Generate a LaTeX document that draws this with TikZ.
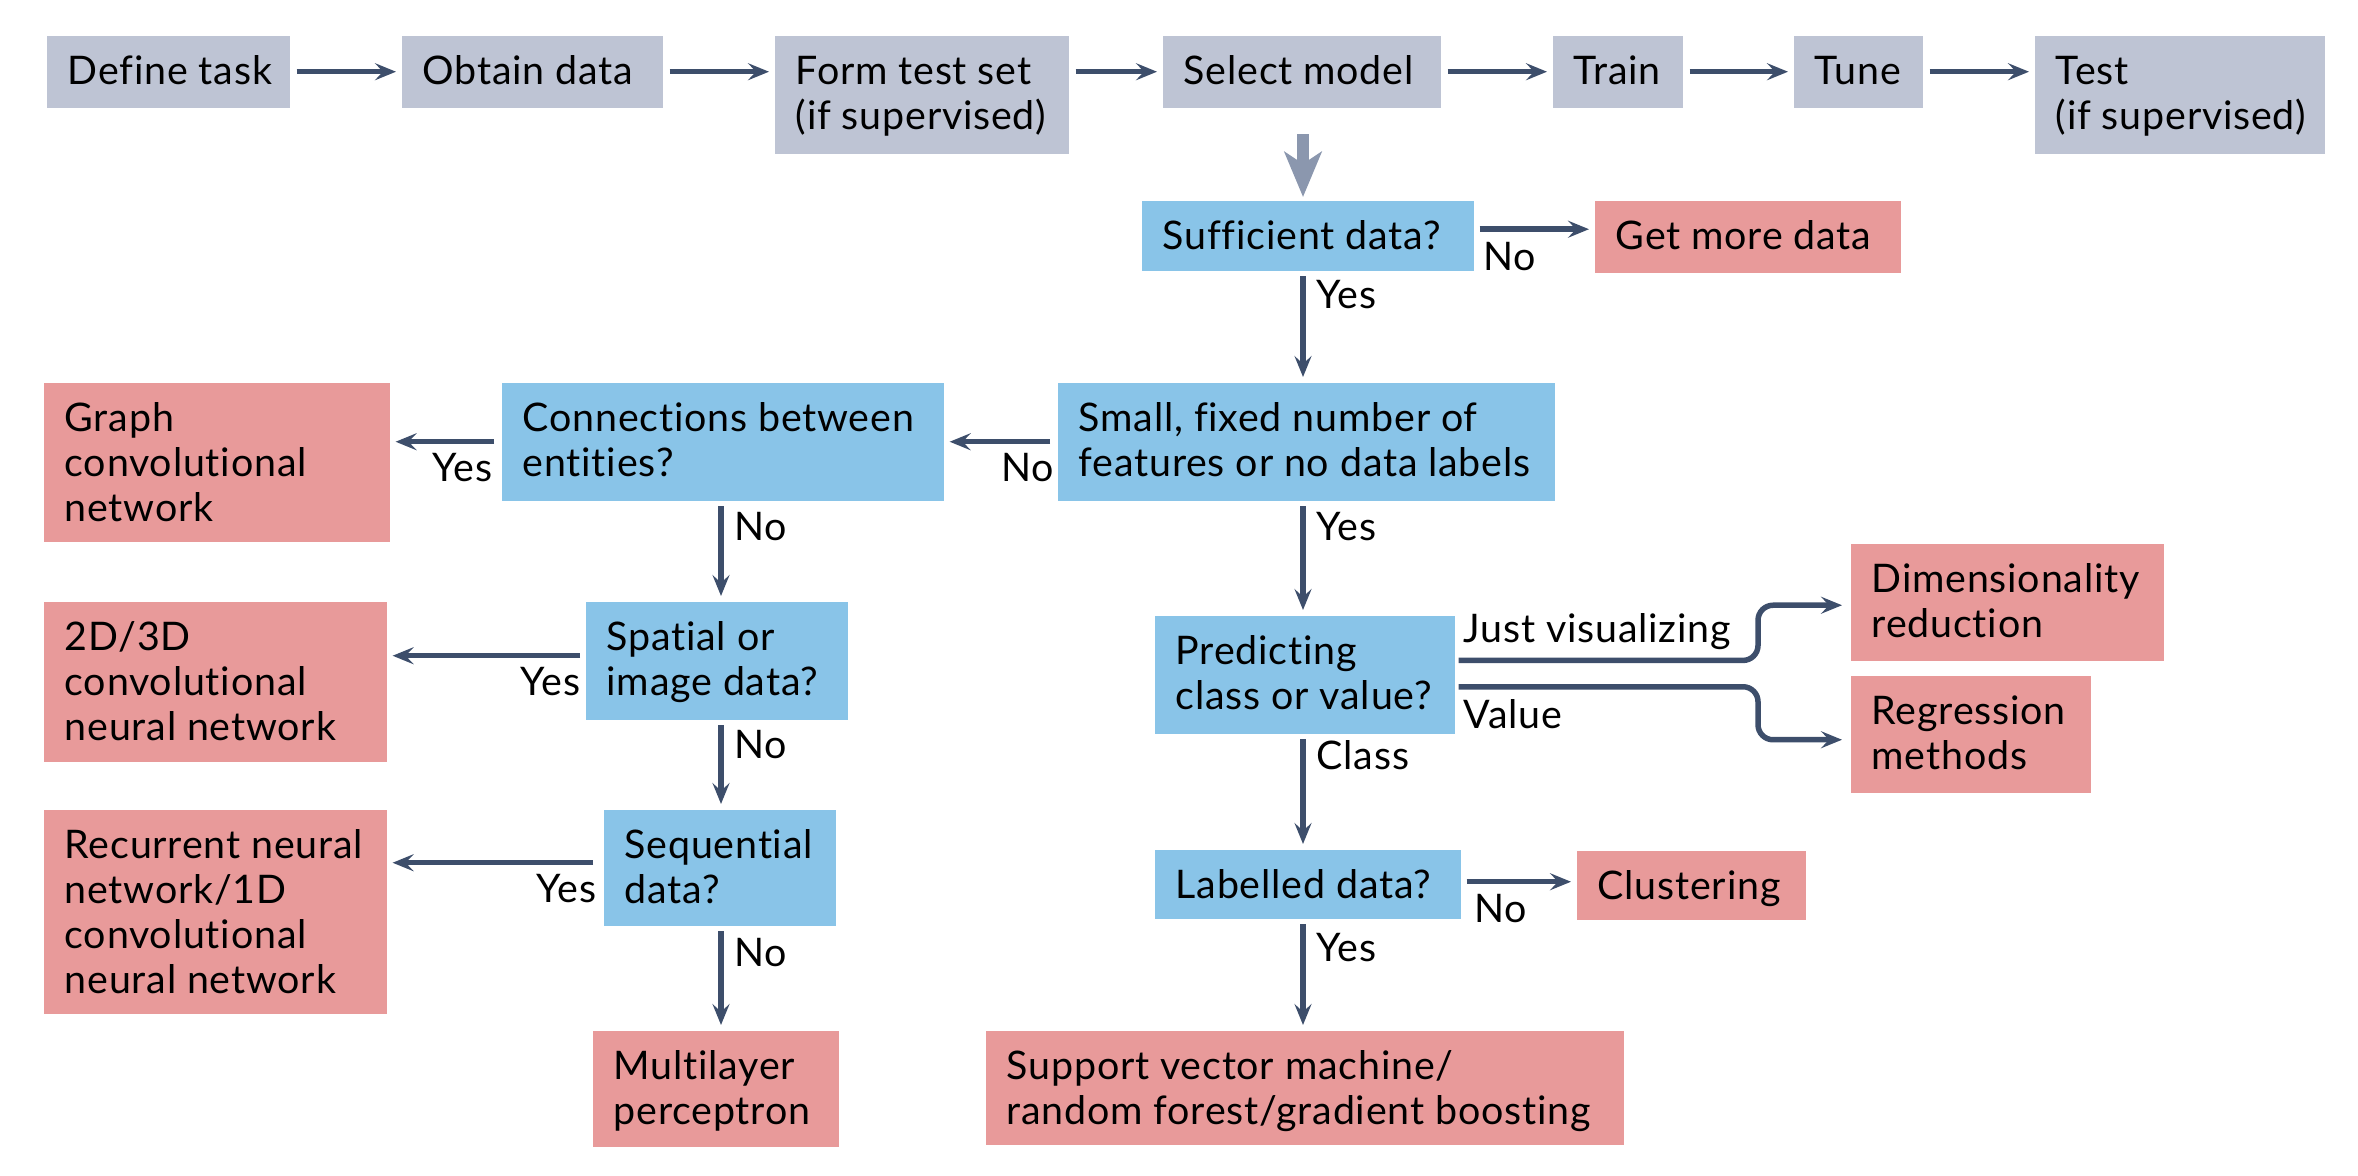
\documentclass[tikz,border=0pt]{standalone}
\usepackage{fontspec}
\setmainfont[LetterSpace=2,Ligatures={NoCommon,NoContextual},Contextuals=NoAlternate]{Lato}
\usetikzlibrary{arrows.meta,calc}
\definecolor{greybox}{RGB}{190,196,212}
\definecolor{bluebox}{RGB}{137,196,232}
\definecolor{pinkbox}{RGB}{232,154,154}
\definecolor{arrcol}{RGB}{61,78,107}
\definecolor{bigarr}{RGB}{139,151,174}
\begin{document}
\begin{tikzpicture}[x=0.01cm,y=-0.01cm,
  txt/.style={font=\fontsize{11.2pt}{12.8pt}\selectfont, text=black},
  boxtext/.style={txt, anchor=base west, inner sep=0pt, align=left, xshift=0.21cm, yshift=-0.495cm},
  two/.style={yshift=-0.45cm},
  three/.style={yshift=-0.90cm},
  four/.style={yshift=-1.35cm},
  boxbase/.style={anchor=north west, inner sep=0pt, draw=none},
  gbox/.style={boxbase, fill=greybox},
  bbox/.style={boxbase, fill=bluebox},
  pbox/.style={boxbase, fill=pinkbox},
  arr/.style={draw=arrcol, line width=0.055cm, -{Stealth[length=0.21cm,width=0.17cm,inset=0.08cm]}, shorten <=0.05cm, shorten >=0.05cm},
  lab/.style={txt, anchor=base west, inner sep=0pt}
]
\useasboundingbox (0,0) rectangle (2358,1176);
% top row
\node[gbox, minimum width=2.43cm, minimum height=0.72cm, label={[boxtext]north west:Define task}] (define) at (46,35) {};
\node[gbox, minimum width=2.61cm, minimum height=0.72cm, label={[boxtext]north west:Obtain data}] (obtain) at (401,35) {};
\node[gbox, minimum width=2.94cm, minimum height=1.18cm, label={[boxtext,two]north west:{Form test set\\(if supervised)}}] (formtest) at (774,35) {};
\node[gbox, minimum width=2.78cm, minimum height=0.72cm, label={[boxtext]north west:Select model}] (select) at (1162,35) {};
\node[gbox, minimum width=1.30cm, minimum height=0.72cm, label={[boxtext]north west:Train}] (train) at (1552,35) {};
\node[gbox, minimum width=1.29cm, minimum height=0.72cm, label={[boxtext]north west:Tune}] (tune) at (1793,35) {};
\node[gbox, minimum width=2.90cm, minimum height=1.18cm, label={[boxtext,two]north west:{Test\\(if supervised)}}] (test) at (2034,35) {};
% questions
\node[bbox, minimum width=3.32cm, minimum height=0.70cm, label={[boxtext]north west:Sufficient data?}] (sufficient) at (1141,200) {};
\node[bbox, minimum width=4.97cm, minimum height=1.18cm, label={[boxtext,two]north west:{Small, fixed number of\\features or no data labels}}] (small) at (1057,382) {};
\node[bbox, minimum width=4.42cm, minimum height=1.18cm, label={[boxtext,two]north west:{Connections between\\entities?}}] (connections) at (501,382) {};
\node[bbox, minimum width=2.62cm, minimum height=1.18cm, label={[boxtext,two]north west:{Spatial or\\image data?}}] (spatial) at (585,601) {};
\node[bbox, minimum width=2.32cm, minimum height=1.16cm, label={[boxtext,two]north west:{Sequential\\data?}}] (sequential) at (603,809) {};
\node[bbox, minimum width=3.00cm, minimum height=1.18cm, label={[boxtext,two]north west:{Predicting\\class or value?}}] (predicting) at (1154,615) {};
\node[bbox, minimum width=3.06cm, minimum height=0.69cm, label={[boxtext]north west:Labelled data?}] (labelled) at (1154,849) {};
% outcomes
\node[pbox, minimum width=3.06cm, minimum height=0.72cm, label={[boxtext]north west:Get more data}] (getmore) at (1594,200) {};
\node[pbox, minimum width=3.46cm, minimum height=1.59cm, label={[boxtext,three]north west:{Graph\\convolutional\\network}}] (graph) at (43,382) {};
\node[pbox, minimum width=3.43cm, minimum height=1.60cm, label={[boxtext,three]north west:{2D/3D\\convolutional\\neural network}}] (cnn) at (43,601) {};
\node[pbox, minimum width=3.43cm, minimum height=2.04cm, label={[boxtext,four]north west:{Recurrent neural\\network/1D\\convolutional\\neural network}}] (rnn) at (43,809) {};
\node[pbox, minimum width=2.46cm, minimum height=1.16cm, label={[boxtext,two]north west:{Multilayer\\perceptron}}] (mlp) at (592,1030) {};
\node[pbox, minimum width=6.38cm, minimum height=1.14cm, label={[boxtext,two]north west:{Support vector machine/\\random forest/gradient boosting}}] (svm) at (985,1030) {};
\node[pbox, minimum width=3.13cm, minimum height=1.17cm, label={[boxtext,two]north west:{Dimensionality\\reduction}}] (dimred) at (1850,543) {};
\node[pbox, minimum width=2.40cm, minimum height=1.17cm, label={[boxtext,two]north west:{Regression\\methods}}] (regression) at (1850,675) {};
\node[pbox, minimum width=2.29cm, minimum height=0.69cm, label={[boxtext]north west:Clustering}] (clustering) at (1576,850) {};
% columns
\coordinate (colR) at (1303,0);
\coordinate (colL) at (721,0);
\coordinate (vx) at (1758,0);
% top row arrows
\begin{scope}[yshift=-0.025cm]
\draw[arr, shorten <=0.06cm] (define.east) -- (obtain.west);
\draw[arr, shorten <=0.06cm] (obtain.east) -- (obtain.east -| formtest.west);
\draw[arr, shorten <=0.06cm] (obtain.east -| formtest.east) -- (select.west);
\draw[arr, shorten <=0.06cm] (select.east) -- (train.west);
\draw[arr, shorten <=0.06cm] (train.east) -- (tune.west);
\draw[arr, shorten <=0.06cm] (tune.east) -- (tune.east -| test.west);
\end{scope}
% big grey arrow
\draw[draw=bigarr, line width=0.12cm, -{Stealth[length=0.45cm,width=0.37cm,inset=0.12cm]}, shorten <=0.26cm, shorten >=0.03cm] (select.south -| colR) -- (sufficient.north -| colR);
% right column
\draw[arr] ([yshift=0.065cm]sufficient.east) -- ([yshift=0.065cm]sufficient.east -| getmore.west);
\draw[arr] (sufficient.south -| colR) -- (small.north -| colR);
\draw[arr] (small.south -| colR) -- (predicting.north -| colR);
\draw[arr] (predicting.south -| colR) -- (labelled.north -| colR);
\draw[arr] (labelled.south -| colR) -- (svm.north -| colR);
\draw[arr] ([yshift=0.025cm]labelled.east) -- ([yshift=0.025cm]labelled.east -| clustering.west);
\draw[arr, rounded corners=0.15cm, shorten <=0.03cm, shorten >=0.08cm] ([yshift=0.143cm]predicting.east) -- ([yshift=0.143cm]predicting.east -| vx) |- ([yshift=-0.03cm]dimred.west);
\draw[arr, rounded corners=0.15cm, shorten <=0.03cm, shorten >=0.08cm] ([yshift=-0.12cm]predicting.east) -- ([yshift=-0.12cm]predicting.east -| vx) |- ([yshift=-0.055cm]regression.west);
% left part
\draw[arr, shorten <=0.07cm] (small.west) -- (connections.east);
\draw[arr, shorten <=0.07cm] (connections.west) -- (connections.west -| graph.east);
\draw[arr] (connections.south -| colL) -- (spatial.north -| colL);
\draw[arr, shorten <=0.05cm] ([yshift=0.05cm]spatial.west) -- ([yshift=0.05cm]spatial.west -| cnn.east);
\draw[arr] (spatial.south -| colL) -- (sequential.north -| colL);
\draw[arr, shorten <=0.1cm] ([yshift=0.05cm]sequential.west) -- ([yshift=0.05cm]sequential.west -| rnn.east);
\draw[arr] (sequential.south -| colL) -- (mlp.north -| colL);
% labels
\node[lab] (l1) at (1483,270) {No};
\node[lab] (l2) at (1316,308) {Yes};
\node[lab] (l3) at (1001,481) {No};
\node[lab] (l4) at (432,481) {Yes};
\node[lab] (l5) at (734,540) {No};
\node[lab] (l6) at (1316,540) {Yes};
\node[lab] (l7) at (520,695) {Yes};
\node[lab] (l8) at (734,758) {No};
\node[lab] (l9) at (536,902) {Yes};
\node[lab] (l10) at (734,966) {No};
\node[lab] (l11) at (1316,769) {Class};
\node[lab] (l12) at (1474,922) {No};
\node[lab] (l13) at (1316,961) {Yes};
\node[lab] (l14) at (1463,642) {Just visualizing};
\node[lab] (l15) at (1463,728) {Value};
\end{tikzpicture}
\end{document}
